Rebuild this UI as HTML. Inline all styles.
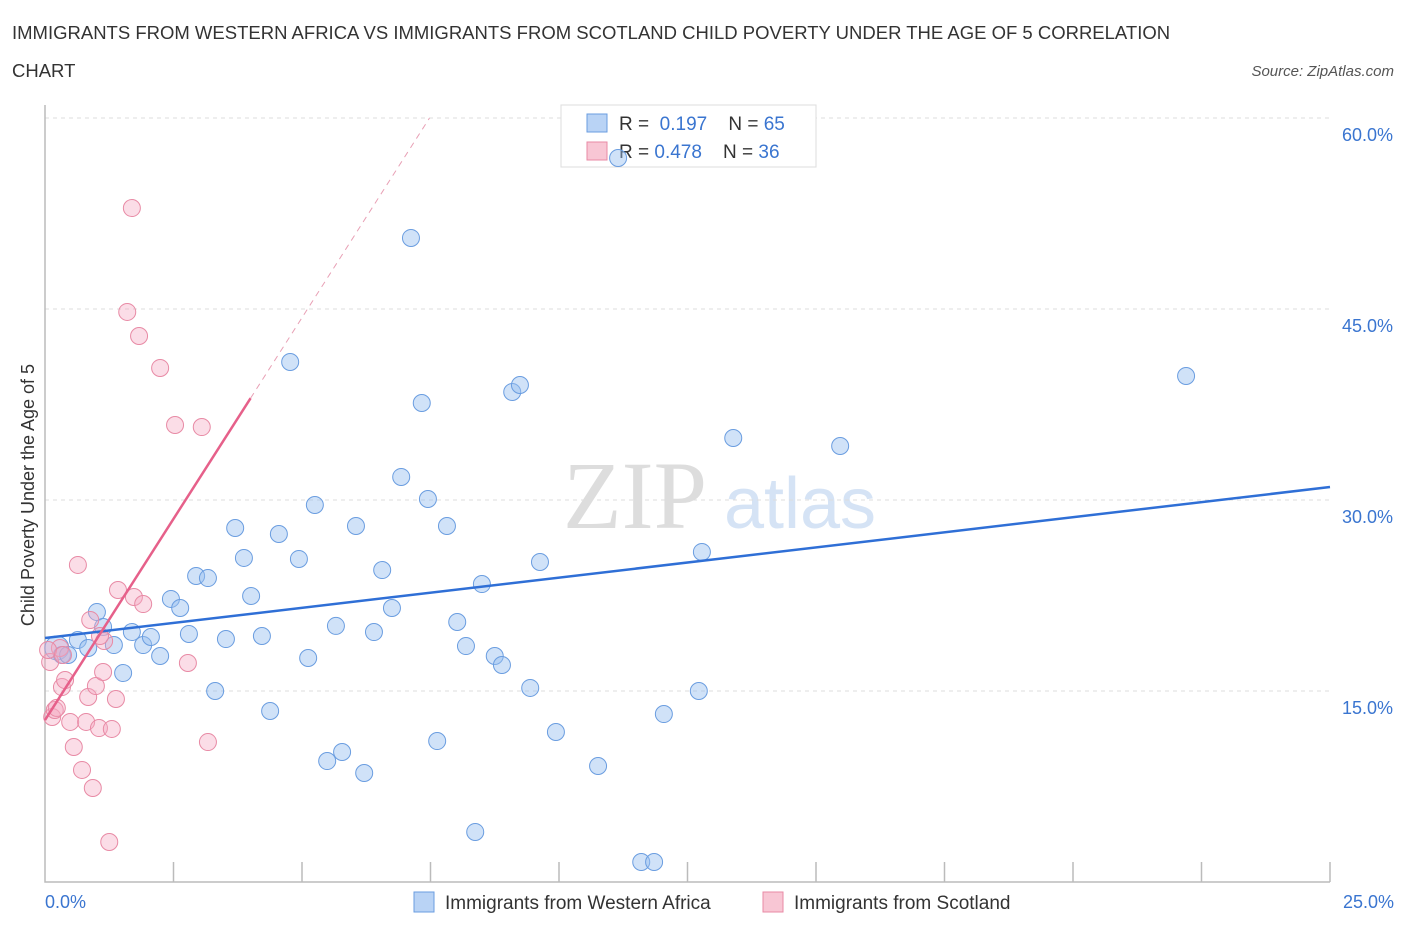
<!DOCTYPE html>
<html><head><meta charset="utf-8"><style>
body{margin:0;background:#fff;font-family:"Liberation Sans",sans-serif;}
</style></head><body>
<svg width="1406" height="930" xmlns="http://www.w3.org/2000/svg">
<text x="12" y="39" font-size="18.5" fill="#333">IMMIGRANTS FROM WESTERN AFRICA VS IMMIGRANTS FROM SCOTLAND CHILD POVERTY UNDER THE AGE OF 5 CORRELATION</text>
<text x="12" y="77" font-size="18.5" fill="#333">CHART</text>
<text x="1394" y="76" font-size="15" fill="#555" font-style="italic" text-anchor="end">Source: ZipAtlas.com</text>
<text x="635" y="528" font-size="96" fill="#ddd" font-family="Liberation Serif" text-anchor="middle">ZIP</text>
<text x="800" y="528" font-size="72" fill="#d5e3f5" text-anchor="middle">atlas</text>
<g id="grid"></g><g id="axes"></g>
<g>
<rect x="561" y="105" width="255" height="62" fill="#fff" stroke="#ddd"/>
<rect x="587" y="114" width="20" height="18" fill="#b9d3f5" stroke="#6a9de0"/>
<text x="619" y="130" font-size="19" fill="#333">R = <tspan fill="#3a75d0">&#160;0.197</tspan>&#160;&#160;&#160;&#160;N = <tspan fill="#3a75d0">65</tspan></text>
<rect x="587" y="142" width="20" height="18" fill="#f8c6d4" stroke="#e88aa5"/>
<text x="619" y="158" font-size="19" fill="#333">R = <tspan fill="#3a75d0">0.478</tspan>&#160;&#160;&#160;&#160;N = <tspan fill="#3a75d0">36</tspan></text>
</g>
<g id="pts"></g><g id="trend"></g>
<text x="34" y="495" font-size="18" fill="#333" text-anchor="middle" transform="rotate(-90 34 495)">Child Poverty Under the Age of 5</text>
<text x="45" y="908" font-size="18" fill="#3a75d0">0.0%</text>
<text x="1394" y="908" font-size="18" fill="#3a75d0" text-anchor="end">25.0%</text>
<g>
<rect x="414" y="892" width="20" height="20" fill="#b9d3f5" stroke="#6a9de0"/>
<text x="445" y="909" font-size="19" fill="#333">Immigrants from Western Africa</text>
<rect x="763" y="892" width="20" height="20" fill="#f8c6d4" stroke="#e88aa5"/>
<text x="794" y="909" font-size="19" fill="#333">Immigrants from Scotland</text>
</g>
</svg>
<script>
const yTicks=[15,30,45,60];
const xTicks=[0,2.5,5,7.5,10,12.5,15,17.5,20,22.5,25];
const blueX=[0.23,0.33,0.45,0.64,0.84,1.01,1.13,1.34,1.52,1.69,1.91,2.06,2.24,2.45,2.63,2.80,2.94,3.17,3.31,3.52,3.70,3.87,4.01,4.22,4.38,4.55,4.77,4.94,5.12,5.25,5.49,5.66,5.78,6.05,6.21,6.40,6.56,6.75,6.93,7.12,7.33,7.45,7.63,7.82,8.02,8.19,8.37,8.50,8.75,8.89,9.09,9.24,9.44,9.63,9.94,10.76,11.15,11.60,11.85,12.04,12.72,12.78,13.39,15.47,22.20];
const blueY=[18.38,17.83,17.83,19.01,18.38,21.20,20.03,18.61,16.41,19.63,18.61,19.24,17.75,22.23,21.52,19.48,24.03,23.87,15.00,19.08,27.80,25.45,22.46,19.32,13.43,27.33,40.84,25.37,17.59,29.61,9.50,20.11,10.21,27.96,8.56,19.63,24.50,21.52,31.81,50.58,37.62,30.08,11.07,27.96,20.42,18.53,3.93,23.40,17.75,17.04,38.48,39.03,15.24,25.13,11.78,9.11,56.86,1.57,1.57,13.19,15.00,25.92,34.87,34.24,39.74];
const pinkX=[0.10,0.14,0.19,0.23,0.29,0.33,0.39,0.49,0.56,0.64,0.72,0.80,0.84,0.88,0.93,0.99,1.05,1.13,1.15,1.25,1.30,1.38,1.42,1.60,1.69,1.73,1.83,1.91,2.24,2.53,2.78,3.05,3.17,0.06,0.35,1.07];
const pinkY=[17.28,12.96,13.51,13.67,18.38,15.31,15.86,12.57,10.60,24.90,8.80,12.57,14.53,20.58,7.38,15.39,12.09,16.49,18.93,3.14,12.02,14.37,22.93,44.77,52.93,22.38,42.88,21.83,40.37,35.89,17.20,35.73,10.99,18.22,17.83,19.32];
const trendBlue=[19.16,31.02], trendPink=[12.72,38.0,60];
const X=v=>45+v*51.4, Y=v=>691-(v-15)*12.733;
const NS='http://www.w3.org/2000/svg';
function mk(p,t,a){const e=document.createElementNS(NS,t);for(const k in a)e.setAttribute(k,a[k]);document.getElementById(p).appendChild(e);return e;}
yTicks.forEach(t=>{
 const g=mk('grid','line',{x1:45,x2:1330,y1:Y(t),y2:Y(t),stroke:'#ddd','stroke-dasharray':'4,4'});
 
 
 const l=mk('grid','text',{x:1393,y:Y(t)+23,'font-size':18,fill:'#3a75d0','text-anchor':'end'});
 l.textContent=t.toFixed(1)+'%';
 
 
});
const ax=mk('axes','path',{d:'M45,105V882H1330',stroke:'#bbb',fill:'none','stroke-width':1.5});


xTicks.slice(1).forEach(t=>{
 const k=mk('axes','line',{x1:X(t),x2:X(t),y1:862,y2:882,stroke:'#bbb','stroke-width':1.5});
 
 
});
blueX.forEach((x,i)=>{
 const c=mk('pts','circle',{cx:X(x),cy:Y(blueY[i]),r:i==0?12:8.5,fill:'rgba(150,190,240,0.45)',stroke:'#6a9de0','stroke-width':1});
 
 
});
pinkX.forEach((x,i)=>{
 const c=mk('pts','circle',{cx:X(x),cy:Y(pinkY[i]),r:8.5,fill:'rgba(245,170,195,0.4)',stroke:'#e88aa5','stroke-width':1});
 
 
});
const tb=mk('trend','line',{x1:X(0),y1:Y(trendBlue[0]),x2:X(25),y2:Y(trendBlue[1]),stroke:'#2f6fd6','stroke-width':2.5});


const slope=(trendPink[1]-trendPink[0])/4;
const xEnd=(trendPink[2]-trendPink[0])/slope;
const tp=mk('trend','line',{x1:X(0),y1:Y(trendPink[0]),x2:X(4),y2:Y(trendPink[1]),stroke:'#e6608a','stroke-width':2.5});


const td=mk('trend','line',{x1:X(4),y1:Y(trendPink[1]),x2:X(xEnd),y2:Y(trendPink[2]),stroke:'#e8a0b5','stroke-width':1,'stroke-dasharray':'6,5'});


</script>
</body></html>
